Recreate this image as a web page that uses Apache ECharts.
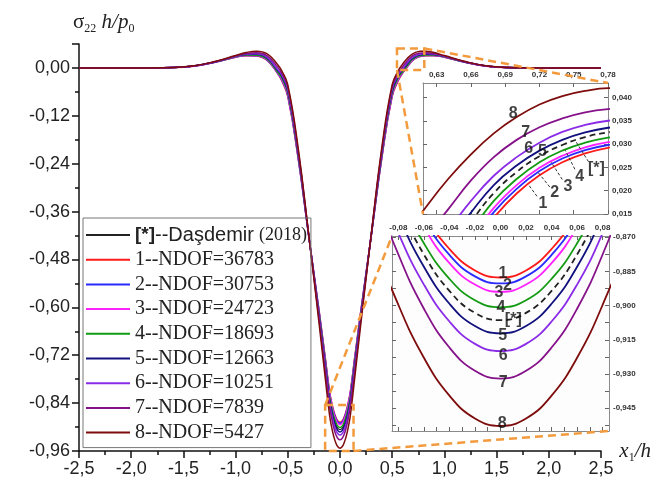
<!DOCTYPE html>
<html>
<head>
<meta charset="utf-8">
<script src="https://cdn.jsdelivr.net/npm/echarts@6/dist/echarts.min.js"></script>
<style>
html, body { margin: 0; padding: 0; background: #fff; }
#chart { width: 654px; height: 488px; }
</style>
</head>
<body>
<div id="chart"></div>
<script>
// Normalised stress sigma22*h/p0 along x1/h for the reference solution and eight meshes.
const xs = [-2.5, -2.0, -1.6, -1.4, -1.2, -1.0, -0.9, -0.8, -0.7, -0.6, -0.56, -0.5, -0.4, -0.3, -0.2, -0.14,
  -0.1, -0.08, -0.06, -0.04, -0.02, 0, 0.02, 0.04, 0.06, 0.08, 0.1,
  0.14, 0.2, 0.3, 0.4, 0.5, 0.56, 0.6, 0.62, 0.64, 0.66, 0.68, 0.7, 0.72, 0.74, 0.76, 0.78, 0.82, 0.9,
  1.0, 1.2, 1.4, 1.6, 2.0, 2.5];

const dasdemir2018 = [0, 0, 0.0010, 0.0047, 0.0148, 0.0285, 0.0330, 0.0331, 0.0240, -0.0075, -0.022, -0.060, -0.218, -0.418, -0.618, -0.743,
  -0.8264, -0.8552, -0.8776, -0.8936, -0.9032, -0.9064, -0.9032, -0.8936, -0.8776, -0.8552, -0.8264,
  -0.743, -0.618, -0.418, -0.218, -0.060, -0.022, -0.0075, -0.0005, 0.0065, 0.0133, 0.0195, 0.0240, 0.0274, 0.0298, 0.0315, 0.0325, 0.0336, 0.0330,
  0.0285, 0.0148, 0.0047, 0.0010, 0, 0];
const ndof36783 = [0, 0, 0.0010, 0.0045, 0.0143, 0.0268, 0.0307, 0.0299, 0.0194, -0.013, -0.031, -0.072, -0.228, -0.420, -0.608, -0.728,
  -0.8097, -0.8378, -0.8596, -0.8752, -0.8846, -0.8877, -0.8846, -0.8752, -0.8596, -0.8378, -0.8097,
  -0.728, -0.608, -0.420, -0.228, -0.072, -0.031, -0.013, -0.006, 0.0008, 0.0076, 0.0142, 0.0194, 0.0233, 0.0261, 0.0280, 0.0292, 0.0305, 0.0307,
  0.0268, 0.0143, 0.0045, 0.0010, 0, 0];
const ndof30753 = [0, 0, 0.0010, 0.0046, 0.0144, 0.0272, 0.0312, 0.0305, 0.0204, -0.012, -0.029, -0.069, -0.226, -0.420, -0.610, -0.731,
  -0.8123, -0.8404, -0.8622, -0.8778, -0.8872, -0.8903, -0.8872, -0.8778, -0.8622, -0.8404, -0.8123,
  -0.731, -0.610, -0.420, -0.226, -0.069, -0.029, -0.012, -0.005, 0.0020, 0.0088, 0.0154, 0.0204, 0.0242, 0.0269, 0.0287, 0.0298, 0.0311, 0.0312,
  0.0272, 0.0144, 0.0046, 0.0010, 0, 0];
const ndof24723 = [0, 0, 0.0010, 0.0046, 0.0145, 0.0275, 0.0316, 0.0311, 0.0212, -0.011, -0.027, -0.067, -0.224, -0.419, -0.612, -0.734,
  -0.8150, -0.8434, -0.8656, -0.8814, -0.8908, -0.8940, -0.8908, -0.8814, -0.8656, -0.8434, -0.8150,
  -0.734, -0.612, -0.419, -0.224, -0.067, -0.027, -0.011, -0.004, 0.0030, 0.0097, 0.0163, 0.0212, 0.0249, 0.0275, 0.0293, 0.0304, 0.0317, 0.0316,
  0.0275, 0.0145, 0.0046, 0.0010, 0, 0];
const ndof18693 = [0, 0, 0.0010, 0.0047, 0.0146, 0.0280, 0.0323, 0.0320, 0.0225, -0.0095, -0.024, -0.063, -0.221, -0.419, -0.615, -0.739,
  -0.8228, -0.8509, -0.8727, -0.8883, -0.8977, -0.9008, -0.8977, -0.8883, -0.8727, -0.8509, -0.8228,
  -0.739, -0.615, -0.419, -0.221, -0.063, -0.024, -0.0095, -0.0025, 0.0045, 0.0113, 0.0178, 0.0225, 0.0261, 0.0286, 0.0303, 0.0314, 0.0326, 0.0323,
  0.0280, 0.0146, 0.0047, 0.0010, 0, 0];
const ndof12663 = [0, 0, 0.0011, 0.0048, 0.0150, 0.0290, 0.0337, 0.0340, 0.0254, -0.005, -0.019, -0.057, -0.215, -0.418, -0.621, -0.747,
  -0.8312, -0.8604, -0.8830, -0.8992, -0.9090, -0.9122, -0.9090, -0.8992, -0.8830, -0.8604, -0.8312,
  -0.747, -0.621, -0.418, -0.215, -0.057, -0.019, -0.005, 0.0020, 0.0088, 0.0153, 0.0212, 0.0254, 0.0286, 0.0309, 0.0325, 0.0335, 0.0345, 0.0337,
  0.0290, 0.0150, 0.0048, 0.0011, 0, 0];
const ndof10251 = [0, 0, 0.0011, 0.0049, 0.0152, 0.0295, 0.0347, 0.0355, 0.0272, -0.003, -0.016, -0.053, -0.212, -0.417, -0.625, -0.753,
  -0.8390, -0.8682, -0.8908, -0.9070, -0.9168, -0.9200, -0.9168, -0.9070, -0.8908, -0.8682, -0.8390,
  -0.753, -0.625, -0.417, -0.212, -0.053, -0.016, -0.003, 0.0045, 0.0114, 0.0178, 0.0232, 0.0272, 0.0303, 0.0326, 0.0341, 0.0350, 0.0359, 0.0347,
  0.0295, 0.0152, 0.0049, 0.0011, 0, 0];
const ndof7839 = [0, 0, 0.0011, 0.0050, 0.0155, 0.0302, 0.0362, 0.0378, 0.0309, 0.003, -0.012, -0.048, -0.208, -0.417, -0.631, -0.761,
  -0.8470, -0.8776, -0.9014, -0.9184, -0.9286, -0.9320, -0.9286, -0.9184, -0.9014, -0.8776, -0.8470,
  -0.761, -0.631, -0.417, -0.208, -0.048, -0.012, 0.003, 0.0098, 0.0160, 0.0222, 0.0272, 0.0309, 0.0336, 0.0355, 0.0368, 0.0375, 0.0381, 0.0362,
  0.0302, 0.0155, 0.0050, 0.0011, 0, 0];
const ndof5427 = [0, 0, 0.0012, 0.0052, 0.0160, 0.0310, 0.0385, 0.0421, 0.0358, 0.0095, -0.006, -0.042, -0.201, -0.416, -0.641, -0.780,
  -0.8698, -0.8997, -0.9229, -0.9395, -0.9495, -0.9528, -0.9495, -0.9395, -0.9229, -0.8997, -0.8698,
  -0.780, -0.641, -0.416, -0.201, -0.042, -0.006, 0.0095, 0.0163, 0.0225, 0.0278, 0.0323, 0.0358, 0.0385, 0.0403, 0.0414, 0.0420, 0.0421, 0.0385,
  0.0310, 0.0160, 0.0052, 0.0012, 0, 0];

const seriesNames = ['[*]--Daşdemir (2018)', '1--NDOF=36783', '2--NDOF=30753', '3--NDOF=24723', '4--NDOF=18693',
  '5--NDOF=12663', '6--NDOF=10251', '7--NDOF=7839', '8--NDOF=5427'];
const seriesValues = [dasdemir2018, ndof36783, ndof30753, ndof24723, ndof18693, ndof12663, ndof10251, ndof7839, ndof5427];
const seriesColors = ['#222222', '#ff1a1a', '#2a2aff', '#ff22ff', '#129a12', '#10107e', '#8a2be8', '#86128a', '#7e0c0c'];

// tick labels
const peakXLabels = [0.63, 0.66, 0.69, 0.72, 0.75, 0.78];
const peakYLabels = [0.015, 0.020, 0.025, 0.030, 0.035, 0.040];
const troughXLabels = [-0.08, -0.06, -0.04, -0.02, 0, 0.02, 0.04, 0.06, 0.08];
const troughYLabels = [-0.945, -0.930, -0.915, -0.900, -0.885, -0.870];

// curve tags inside the two magnified windows
const peakTags = [
  { text: '8', at: [0.697, 0.0366] },
  { text: '7', at: [0.708, 0.0325] },
  { text: '6', at: [0.7105, 0.0291] },
  { text: '5', at: [0.7225, 0.0284] },
  { text: '4', at: [0.7552, 0.0231] },
  { text: '3', at: [0.745, 0.0209] },
  { text: '2', at: [0.7333, 0.0195] },
  { text: '1', at: [0.7231, 0.0172] },
  { text: '[*]', at: [0.7698, 0.0248] }
];
const peakLeaders = [
  [[0.7178, 0.0188], [0.7100, 0.0214]],
  [[0.7290, 0.0208], [0.7185, 0.0240]],
  [[0.7400, 0.0224], [0.7300, 0.0262]],
  [[0.7510, 0.0246], [0.7425, 0.0287]],
  [[0.7630, 0.0262], [0.7520, 0.0305]]
];
const troughTags = [
  { text: '1', at: [0.002, -0.8859] },
  { text: '2', at: [0.0054, -0.8911] },
  { text: '3', at: [-0.0012, -0.8944] },
  { text: '4', at: [0.0004, -0.9008] },
  { text: '[*]', at: [0.0100, -0.9060] },
  { text: '5', at: [0.0017, -0.9130] },
  { text: '6', at: [0.0022, -0.9218] },
  { text: '7', at: [0.0022, -0.9337] },
  { text: '8', at: [0.0014, -0.9517] }
];

// zoom frames on the main plot (data units)
const peakFrame = { x: [0.546, 0.808], y: [-0.005, 0.049] };
const troughFrame = { x: [-0.142, 0.13], y: [-0.96, -0.845] };
const peakWindow = { x: [0.618, 0.78], y: [0.015, 0.0431] };
const troughWindow = { x: [-0.085, 0.085], y: [-0.955, -0.8695] };

const SANS = "'Liberation Sans', Arial, sans-serif";
const SERIF = "'Liberation Serif', 'Times New Roman', serif";
const ORANGE = '#f39a3c';

const comma = (v, d) => (Math.abs(v) < 1e-9 ? 0 : v).toFixed(d).replace('.', ',');

function curve(k, xi, yi, width, inset) {
  const dashed = k === 0 && inset;
  return {
    type: 'line',
    name: seriesNames[k],
    xAxisIndex: xi,
    yAxisIndex: yi,
    data: xs.map((x, i) => [x, seriesValues[k][i]]),
    symbol: 'none',
    showSymbol: false,
    smooth: 0.45,
    clip: true,
    silent: true,
    z: 3,
    lineStyle: { color: seriesColors[k], width: k === 0 && !inset ? 1.2 : width, type: dashed ? [6, 4] : 'solid' },
    itemStyle: { color: seriesColors[k] },
    emphasis: { disabled: true }
  };
}

function tagSeries(tags, xi, yi, size) {
  return {
    type: 'scatter',
    xAxisIndex: xi,
    yAxisIndex: yi,
    symbolSize: 1,
    itemStyle: { color: 'rgba(0,0,0,0)' },
    silent: true,
    z: 5,
    data: tags.map(t => ({ value: t.at, name: t.text })),
    label: {
      show: true, position: 'inside', formatter: p => p.name,
      fontFamily: SANS, fontWeight: 'bold', fontSize: size, color: '#111'
    }
  };
}

function insetAxis(grid, pos, range, labels, ticks, digits, showLabels) {
  return {
    type: 'value', gridIndex: grid, position: pos, min: range[0], max: range[1],
    axisLine: { show: true, onZero: false, lineStyle: { color: '#8a8a8a', width: 1 } },
    axisTick: { show: true, inside: true, length: 4, customValues: ticks, lineStyle: { color: '#666', width: 1 } },
    axisLabel: {
      show: showLabels, customValues: labels, formatter: v => comma(v, digits),
      fontFamily: SANS, fontWeight: 'bold', fontSize: 8, color: '#333', margin: 4
    },
    splitLine: { show: false }
  };
}

const peakYTicks = [0.015, 0.020, 0.025, 0.030, 0.035, 0.040];
const troughXTicks = [-0.08, -0.07, -0.06, -0.05, -0.04, -0.03, -0.02, -0.01, 0, 0.01, 0.02, 0.03, 0.04, 0.05, 0.06, 0.07, 0.08];
const troughYTicks = [-0.9525, -0.945, -0.9375, -0.93, -0.9225, -0.915, -0.9075, -0.9, -0.8925, -0.885, -0.8775, -0.87];

const series = [];
for (let k = 0; k < 9; k++) series.push(curve(k, 0, 0, 1.5, false));
for (let k = 0; k < 9; k++) series.push(curve(k, 1, 1, 1.8, true));
for (let k = 0; k < 9; k++) series.push(curve(k, 3, 3, 1.8, true));
series.push(tagSeries(peakTags, 1, 1, 16));
series.push(tagSeries(troughTags, 3, 3, 16));
series.push({
  type: 'lines', coordinateSystem: 'cartesian2d', xAxisIndex: 1, yAxisIndex: 1, silent: true, z: 4,
  data: peakLeaders.map(c => ({ coords: c })),
  lineStyle: { color: '#333', width: 1, type: [3, 2], opacity: 1 }
});

const chart = echarts.init(document.getElementById('chart'), null, { renderer: 'canvas' });
chart.setOption({
  animation: false,
  backgroundColor: '#fff',
  grid: [
    { left: 79, right: 47, top: 44, bottom: 37 },
    { left: 423, top: 83, width: 185, height: 131, show: true, backgroundColor: '#fff', borderWidth: 0 },
    { left: 392, top: 236, width: 217, height: 195, show: true, backgroundColor: '#fdfdfd', borderWidth: 0 }
  ],
  legend: {
    data: seriesNames,
    orient: 'vertical',
    left: 83, top: 218,
    padding: [7, 4, 5, 3],
    itemGap: 4.7,
    itemWidth: 44,
    itemHeight: 2,
    icon: 'rect',
    selectedMode: false,
    borderColor: '#777', borderWidth: 1,
    formatter: n => n.startsWith('[*]') ? '{b|[*]}{s|--Daşdemir} {t|(2018)}' : '{n|' + n + '}',
    textStyle: {
      color: '#222', fontFamily: SERIF, fontSize: 20, lineHeight: 20,
      rich: {
        b: { fontFamily: SANS, fontWeight: 'bold', fontSize: 19, color: '#222' },
        s: { fontFamily: SANS, fontSize: 20, color: '#222' },
        t: { fontFamily: SERIF, fontSize: 18, color: '#222' },
        n: { fontFamily: SERIF, fontSize: 20, color: '#222' }
      }
    }
  },
  xAxis: [
    {
      type: 'value', gridIndex: 0, min: -2.5, max: 2.5, interval: 0.5,
      name: '{i|x}{sub|1}{i|/h}', nameLocation: 'end', nameGap: 4,
      nameTextStyle: {
        rich: {
          i: { fontFamily: SERIF, fontStyle: 'italic', fontSize: 21, color: '#222', lineHeight: 26, verticalAlign: 'middle' },
          sub: { fontFamily: SERIF, fontSize: 12, color: '#222', lineHeight: 26, verticalAlign: 'bottom' }
        }
      },
      axisLine: { show: true, onZero: false, lineStyle: { color: '#111', width: 1.5 } },
      axisTick: { show: true, length: 7, lineStyle: { color: '#111', width: 1.5 } },
      minorTick: { show: true, splitNumber: 2, length: 4, lineStyle: { color: '#111', width: 1.5 } },
      axisLabel: { formatter: v => comma(v, 1), fontFamily: SANS, fontSize: 18, color: '#222', margin: 9 },
      splitLine: { show: false }
    },
    insetAxis(1, 'top', peakWindow.x, peakXLabels, peakXLabels, 2, true),
    insetAxis(1, 'bottom', peakWindow.x, peakXLabels, peakXLabels, 2, false),
    insetAxis(2, 'top', troughWindow.x, troughXLabels, troughXTicks, 2, true),
    insetAxis(2, 'bottom', troughWindow.x, troughXLabels, troughXTicks, 2, false)
  ],
  yAxis: [
    {
      type: 'value', gridIndex: 0, min: -0.96, max: 0.06, interval: 0.12,
      name: '{s|σ}{sub|22}{i| h/p}{sub|0}', nameLocation: 'end', nameGap: 9,
      nameTextStyle: {
        align: 'left', verticalAlign: 'bottom', padding: [0, 0, 0, -6],
        rich: {
          s: { fontFamily: SERIF, fontSize: 21, color: '#222', lineHeight: 26, verticalAlign: 'middle' },
          i: { fontFamily: SERIF, fontStyle: 'italic', fontSize: 21, color: '#222', lineHeight: 26, verticalAlign: 'middle' },
          sub: { fontFamily: SERIF, fontSize: 12, color: '#222', lineHeight: 26, verticalAlign: 'bottom' }
        }
      },
      axisLine: { show: true, onZero: false, lineStyle: { color: '#111', width: 1.5 } },
      axisTick: { show: true, length: 7, lineStyle: { color: '#111', width: 1.5 } },
      minorTick: { show: true, splitNumber: 2, length: 4, lineStyle: { color: '#111', width: 1.5 } },
      axisLabel: { formatter: v => comma(v, 2), showMaxLabel: false, fontFamily: SANS, fontSize: 18, color: '#222', margin: 9 },
      splitLine: { show: false }
    },
    insetAxis(1, 'right', peakWindow.y, peakYLabels, peakYTicks, 3, true),
    insetAxis(1, 'left', peakWindow.y, peakYLabels, peakYTicks, 3, false),
    insetAxis(2, 'right', troughWindow.y, troughYLabels, troughYTicks, 3, true),
    insetAxis(2, 'left', troughWindow.y, troughYLabels, troughYTicks, 3, false)
  ],
  series: series
});

// dashed orange frames on the main plot and their links to the magnified windows
const toMain = p => chart.convertToPixel({ xAxisIndex: 0, yAxisIndex: 0 }, p);
const toPeak = p => chart.convertToPixel({ xAxisIndex: 1, yAxisIndex: 1 }, p);
const toTrough = p => chart.convertToPixel({ xAxisIndex: 3, yAxisIndex: 3 }, p);
const dash = { stroke: ORANGE, lineWidth: 2.5, lineDash: [8, 5], fill: null };

function frame(f) {
  const a = toMain([f.x[0], f.y[1]]);
  const b = toMain([f.x[1], f.y[0]]);
  return { type: 'rect', z: 50, silent: true, shape: { x: a[0], y: a[1], width: b[0] - a[0], height: b[1] - a[1] }, style: dash };
}
function link(p, q) {
  return { type: 'line', z: 50, silent: true, shape: { x1: p[0], y1: p[1], x2: q[0], y2: q[1] }, style: dash };
}

chart.setOption({
  graphic: [
    frame(peakFrame),
    frame(troughFrame),
    link(toMain([peakFrame.x[1], peakFrame.y[1]]), toPeak([peakWindow.x[1], peakWindow.y[1]])),
    link(toMain([peakFrame.x[0], peakFrame.y[0]]), toPeak([peakWindow.x[0], peakWindow.y[0]])),
    link(toMain([troughFrame.x[0], troughFrame.y[1]]), toTrough([troughWindow.x[0], troughWindow.y[1]])),
    link(toMain([troughFrame.x[1], troughFrame.y[0]]), toTrough([troughWindow.x[1], troughWindow.y[0]]))
  ]
});
</script>
</body>
</html>
